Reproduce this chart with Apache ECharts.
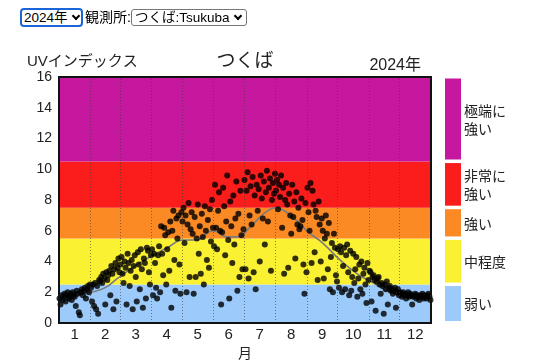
<!DOCTYPE html>
<html><head><meta charset="utf-8">
<script src="https://cdn.jsdelivr.net/npm/echarts@6/dist/echarts.min.js"></script>
<style>
html,body{margin:0;padding:0;background:#fff;width:538px;height:364px;overflow:hidden;font-family:"Liberation Sans","Noto Sans CJK JP",sans-serif;}
#chart{position:absolute;left:0;top:0;width:538px;height:364px;}
.sel{position:absolute;box-sizing:border-box;font-size:13.5px;line-height:14px;color:#000;background:#fff;white-space:nowrap;}
.sel .chev{position:absolute;top:3px;width:4px;height:4px;border-right:2px solid #000;border-bottom:2px solid #000;transform:rotate(45deg);}
#yr{left:20px;top:8px;width:63px;height:19px;border:2px solid #1a66d9;border-radius:4px;padding:1px 0 0 2px;}
#yr .chev{left:51px;}
#st{left:131px;top:9px;width:116px;height:17px;border:1px solid #777;border-radius:3px;padding:1px 0 0 3px;}
#st .chev{left:103px;top:3px;}
#lbl{position:absolute;left:85px;top:9px;font-size:14px;line-height:16px;white-space:nowrap;}
</style></head><body>
<div id="chart"></div>
<div class="sel" id="yr">2024年<span class="chev"></span></div>
<div id="lbl">観測所:</div>
<div class="sel" id="st">つくば:Tsukuba<span class="chev"></span></div>
<script>
// ---- data ----
var monthLabels = ['1','2','3','4','5','6','7','8','9','10','11','12'];
var monthBounds = [0,31,60,91,121,152,182,213,244,274,305,335,366];
var uvJan = [1.6,1.2,1.8,1.5,1.7,1.9,1.4,1.8,2.0,1.6,1.7,1.9,1.5,2.0,1.8,1.7,1.1,2.1,1.9,0.7,0.5,2.0,2.2,1.8,2.1,2.3,1.6,2.2,2.4,2.0,2.5];
var uvFeb = [2.3,1.4,2.5,1.1,2.6,0.9,2.4,0.6,2.8,2.7,3.0,2.6,3.2,2.9,1.2,3.3,2.8,3.1,3.4,1.8,3.7,3.2,0.9,3.5,3.9,1.4,3.6,4.2,3.3];
var uvMar = [3.8,4.3,3.2,2.6,4.0,3.6,1.2,4.5,3.9,2.4,3.4,4.1,0.9,3.7,4.4,3.0,1.4,4.6,3.8,2.2,4.8,3.5,1.0,4.2,3.9,1.6,4.9,4.7,3.3,2.5,4.4];
var uvApr = [4.8,1.8,4.5,3.9,2.3,1.6,4.4,5.0,2.0,6.3,4.5,3.1,6.2,5.7,2.5,4.8,5.9,3.4,6.6,1.0,6.0,7.3,4.1,2.1,6.8,5.5,7.0,3.8,1.9,7.2];
var uvMay = [6.6,7.5,5.2,7.0,2.0,6.4,7.8,3.0,6.1,7.2,5.8,1.9,6.9,3.0,5.5,7.7,4.5,6.3,3.2,7.1,5.6,2.5,7.6,6.0,4.1,6.7,3.6,7.4,5.3,8.0,6.2];
var uvJun = [5.0,9.0,6.2,4.8,7.3,8.5,6.0,1.2,5.9,8.8,7.6,4.4,6.6,9.6,5.4,1.6,7.9,6.3,3.9,8.3,5.1,6.8,9.2,2.1,7.1,3.0,8.6,5.7,3.5,6.1];
var uvJul = [9.3,3.5,8.6,9.8,2.9,7.0,8.9,6.4,9.5,3.3,8.3,2.2,9.0,7.3,8.7,4.0,9.6,8.1,6.8,9.2,5.1,8.5,9.9,6.6,8.8,9.4,3.4,8.0,9.1,8.4,9.7];
var uvAug = [8.6,9.3,7.4,9.0,8.2,9.6,6.2,8.8,3.2,8.0,9.1,7.7,3.6,8.4,7.0,5.8,9.0,6.9,7.9,4.2,8.5,6.4,7.5,6.1,6.3,8.1,6.7,3.8,1.9,7.8,3.3];
var uvSep = [8.8,7.2,6.0,9.1,3.9,8.6,7.7,4.6,7.3,6.9,2.8,7.9,6.4,4.0,6.8,6.0,2.9,5.5,7.0,5.8,3.5,6.5,2.2,4.3,5.2,2.0,5.8,4.9,3.1,2.7];
var uvOct = [4.8,2.3,5.0,4.6,2.0,3.7,4.9,2.2,4.4,5.1,3.3,1.8,4.7,2.1,3.0,4.5,2.6,3.5,4.3,1.7,2.9,3.8,2.2,4.0,1.9,3.2,3.6,2.5,1.3,3.9,2.8];
var uvNov = [3.4,3.3,1.4,3.0,3.1,2.8,0.8,2.7,2.9,3.0,2.5,1.9,2.6,2.4,0.6,2.5,2.2,2.7,1.2,2.3,2.4,2.1,2.2,1.9,2.1,2.3,1.0,2.0,2.2,1.8];
var uvDec = [2.0,1.9,1.7,2.0,1.8,1.9,1.6,1.8,2.0,1.7,1.9,1.8,1.2,1.7,1.8,1.9,1.6,1.8,1.7,1.5,1.8,1.7,1.9,1.6,1.8,1.7,1.6,1.8,1.9,1.7,1.5];
// smoothed normal curve: [day of year, UV index]
var normalDays = [1,15,32,46,58,73,90,107,123,136,152,166,176,188,197,206,214,222,228,237,246,260,277,294,310,326,343,355,366];
var normalVals = [1.7,1.8,2.0,2.3,2.9,3.6,4.3,4.9,5.4,5.4,6.0,5.6,5.6,6.2,6.8,7.3,7.5,7.3,7.0,6.5,5.9,5.2,4.1,3.2,2.6,2.0,1.7,1.6,1.6];
var bandEdges = [0,2.5,5.5,7.5,10.5,16];
var bandNames = ['弱い','中程度','強い','非常に\n強い','極端に\n強い'];

// ---- styles ----
var bandColors = ['#9ccafb','#faf133','#fb8a24','#fb1c1c','#c5189e'];
var FONT = '"Liberation Sans","Noto Sans CJK JP",sans-serif';

var daily = [].concat(uvJan,uvFeb,uvMar,uvApr,uvMay,uvJun,uvJul,uvAug,uvSep,uvOct,uvNov,uvDec);
var scatterData = daily.map(function(v,i){return [i+0.5, v];});
var lineData = normalDays.map(function(d,i){return [d-0.5, normalVals[i]];});
var monthMids = [];
for (var i=0;i<12;i++) monthMids.push((monthBounds[i]+monthBounds[i+1])/2);

var chart = echarts.init(document.getElementById('chart'), null, {renderer:'canvas'});
var option = {
  animation:false,
  backgroundColor:'#fff',
  grid:{left:59, top:77, width:372, height:246, outerBoundsMode:'none', containLabel:false,
        show:true, borderColor:'#111', borderWidth:2, backgroundColor:'transparent', z:10},
  xAxis:{type:'value', min:0, max:366, axisLine:{show:false}, axisTick:{show:false}, splitLine:{show:false},
    name:'月', nameLocation:'middle', nameGap:23, nameTextStyle:{fontSize:14, color:'#222', fontFamily:FONT},
    axisLabel:{customValues:monthMids, fontSize:15, color:'#222', fontFamily:FONT, margin:4,
      formatter:function(v){var k=monthMids.indexOf(v); return k>=0?monthLabels[k]:'';}}},
  yAxis:[
    {type:'value', min:0, max:16, interval:2, position:'left',
     axisLine:{show:false}, splitLine:{show:false},
     axisTick:{show:true, inside:true, length:5, lineStyle:{color:'#222', width:1}},
     minorTick:{show:true, splitNumber:2, length:3, lineStyle:{color:'#222'}},
     axisLabel:{fontSize:14, color:'#222', fontFamily:FONT, margin:7}},
    {type:'value', min:0, max:16, interval:2, position:'right',
     axisLine:{show:false}, splitLine:{show:false},
     axisTick:{show:true, inside:true, length:5, lineStyle:{color:'#222', width:1}},
     minorTick:{show:true, splitNumber:2, length:3, lineStyle:{color:'#222'}},
     axisLabel:{show:false}}
  ],
  series:[
    {type:'line', data:[], z:1, silent:true,
     markArea:{silent:true, itemStyle:{opacity:1},
       data: bandColors.map(function(c,i){return [{yAxis:bandEdges[i], itemStyle:{color:c}},{yAxis:bandEdges[i+1]}];})}},
    {type:'line', data:[], z:2, silent:true,
     markLine:{silent:true, symbol:['none','none'], label:{show:false},
       lineStyle:{type:[1,2], color:'rgba(60,60,60,0.6)', width:1},
       data: monthBounds.slice(1,-1).map(function(b){return {xAxis:b};})}},
    {type:'line', data:lineData, smooth:0.5, showSymbol:false, z:3, silent:true,
     lineStyle:{color:'#7b7b7b', width:1.6}},
    {type:'scatter', data:scatterData, symbolSize:6, z:4, silent:true,
     itemStyle:{color:'#000'}}
  ]
};
chart.setOption(option);

// ---- texts & legend ----
var gfx = [
  {type:'text', x:27, y:62, style:{text:'UVインデックス', textVerticalAlign:'middle', font:'15px '+FONT, fill:'#222'}},
  {type:'text', x:245, y:62, style:{text:'つくば', textAlign:'center', textVerticalAlign:'middle', font:'19px '+FONT, fill:'#222'}},
  {type:'text', x:421, y:66, style:{text:'2024年', textAlign:'right', textVerticalAlign:'middle', font:'16px '+FONT, fill:'#222'}}
];
for (var b=0;b<bandColors.length;b++){
  var yTop = chart.convertToPixel({yAxisIndex:0}, bandEdges[b+1]);
  var yBot = chart.convertToPixel({yAxisIndex:0}, bandEdges[b]);
  var r0 = yTop+1.5, r1 = yBot-2;
  gfx.push({type:'rect', shape:{x:445, y:r0, width:16, height:r1-r0}, style:{fill:bandColors[b]}});
  gfx.push({type:'text', x:464, y:(r0+r1)/2+2, style:{text:bandNames[b], textVerticalAlign:'middle', font:'14px '+FONT, fill:'#222', lineHeight:18}});
}
chart.setOption({graphic:gfx});
</script>
</body></html>
